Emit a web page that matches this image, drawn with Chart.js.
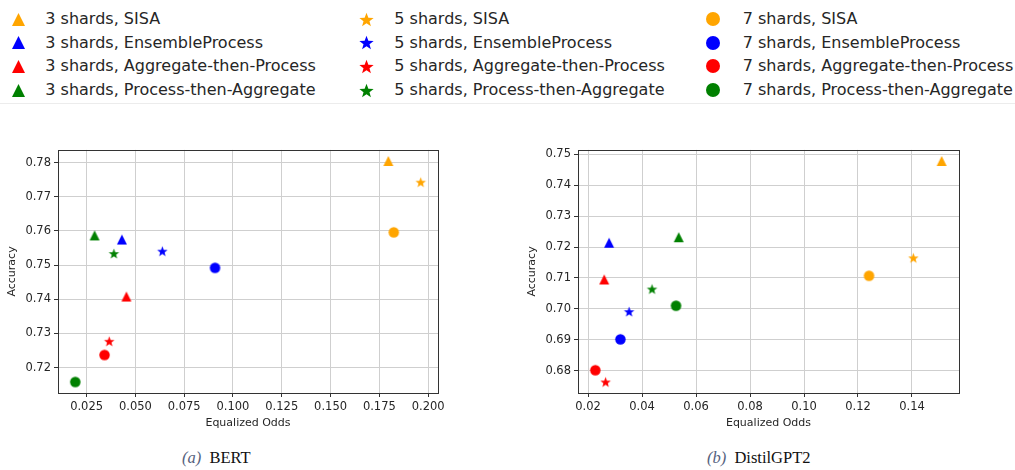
<!DOCTYPE html>
<html>
<head>
<meta charset="utf-8">
<script src="https://cdn.jsdelivr.net/npm/chart.js@4.4.1/dist/chart.umd.min.js"></script>
<style>
  html, body { margin: 0; padding: 0; background: #fff; }
  body { width: 1015px; height: 470px; position: relative; overflow: hidden; font-family: "DejaVu Sans", sans-serif; }
  .panel { position: absolute; top: 140px; width: 450px; height: 290px; }
  .leg-text { position: absolute; font-size: 16px; line-height: 20px; color: #262626; white-space: nowrap; }
  .leg-mark { position: absolute; }
  .caption { position: absolute; top: 448px; font-family: "Liberation Serif", serif; font-size: 16.5px; line-height: 20px; color: #111; white-space: nowrap; }
  .caption i { color: #56627e; margin-right: 4px; }
  #legline { position: absolute; left: 0; top: 103px; width: 1015px; height: 1px; background: #ececec; }
</style>
</head>
<body>
<div id="legend"></div>
<div id="legline"></div>
<div class="panel" style="left:0px"><canvas id="bert"></canvas></div>
<div class="panel" style="left:520px"><canvas id="gpt"></canvas></div>
<div class="caption" style="left:182px"><i>(a)</i> BERT</div>
<div class="caption" style="left:707px"><i>(b)</i> DistilGPT2</div>

<script>
// Shard counts (one marker shape each) and unlearning methods (one colour each)
const shardCounts = [3, 5, 7];
const methods = ['SISA', 'EnsembleProcess', 'Aggregate-then-Process', 'Process-then-Aggregate'];

// BERT — values per shard count (3, 5, 7)
const bertOddsSISA = [0.1796, 0.1962, 0.1824];
const bertAccSISA  = [0.7805, 0.7743, 0.7596];
const bertOddsEnsemble = [0.0431, 0.0638, 0.0908];
const bertAccEnsemble  = [0.7575, 0.7541, 0.7492];
const bertOddsAtP = [0.0454, 0.0366, 0.0342];
const bertAccAtP  = [0.7408, 0.7277, 0.7237];
const bertOddsPtA = [0.0291, 0.0390, 0.0192];
const bertAccPtA  = [0.7587, 0.7534, 0.7158];

// DistilGPT2 — values per shard count (3, 5, 7)
const gptOddsSISA = [0.1510, 0.1405, 0.1241];
const gptAccSISA  = [0.7479, 0.7165, 0.7107];
const gptOddsEnsemble = [0.0278, 0.0352, 0.0320];
const gptAccEnsemble  = [0.7214, 0.6991, 0.6901];
const gptOddsAtP = [0.0260, 0.0265, 0.0227];
const gptAccAtP  = [0.7095, 0.6763, 0.6801];
const gptOddsPtA = [0.0536, 0.0437, 0.0526];
const gptAccPtA  = [0.7232, 0.7064, 0.7010];

// Tick values
const bertXTicks = [0.025, 0.050, 0.075, 0.100, 0.125, 0.150, 0.175, 0.200];
const bertYTicks = [0.72, 0.73, 0.74, 0.75, 0.76, 0.77, 0.78];
const gptXTicks = [0.02, 0.04, 0.06, 0.08, 0.10, 0.12, 0.14];
const gptYTicks = [0.68, 0.69, 0.70, 0.71, 0.72, 0.73, 0.74, 0.75];

const methodColors = ['#ffa500', '#0000ff', '#ff0000', '#008000'];
const shardShapes = ['triangle', 'star', 'circle'];

// Filled marker drawn on a small canvas, centred on its bounding box
function makeMarker(shape, color, size) {
  const dim = Math.ceil(size) + 4;
  const c = document.createElement('canvas');
  c.width = dim; c.height = dim;
  const g = c.getContext('2d');
  const cx = dim / 2, cy = dim / 2, r = size / 2;
  g.fillStyle = color;
  g.beginPath();
  if (shape === 'circle') {
    g.arc(cx, cy, r, 0, Math.PI * 2);
  } else if (shape === 'triangle') {
    g.moveTo(cx, cy - r);
    g.lineTo(cx + r, cy + r);
    g.lineTo(cx - r, cy + r);
  } else {
    const inner = r * 0.42;
    const yOff = r * (1 - Math.cos(Math.PI / 5)) / 2;
    for (let i = 0; i < 10; i++) {
      const a = -Math.PI / 2 + i * Math.PI / 5;
      const rad = i % 2 ? inner : r;
      const px = cx + rad * Math.cos(a), py = cy + yOff + rad * Math.sin(a);
      if (i === 0) g.moveTo(px, py); else g.lineTo(px, py);
    }
  }
  g.closePath();
  g.fill();
  return c;
}
const plotSizes = { triangle: 10, star: 11, circle: 10.5 };
const legendSizes = { triangle: 13, star: 15, circle: 14 };

// Legend: one column per shard count, one row per method
const legend = document.getElementById('legend');
const colMarkX = [18.3, 366, 713.3];
const colTextX = [45.3, 394.3, 742.7];
const rowY = [19, 42.7, 66.3, 90];
shardCounts.forEach((n, si) => {
  methods.forEach((m, mi) => {
    const mk = makeMarker(shardShapes[si], methodColors[mi], legendSizes[shardShapes[si]]);
    mk.className = 'leg-mark';
    mk.style.left = (colMarkX[si] - mk.width / 2) + 'px';
    mk.style.top = (rowY[mi] - mk.height / 2) + 'px';
    legend.appendChild(mk);
    const t = document.createElement('div');
    t.className = 'leg-text';
    t.textContent = n + ' shards, ' + m;
    t.style.left = colTextX[si] + 'px';
    t.style.top = (rowY[mi] - 10) + 'px';
    legend.appendChild(t);
  });
});

// Full box around the plotting area
const framePlugin = {
  id: 'frame',
  afterDraw(chart) {
    const { ctx, chartArea: a } = chart;
    ctx.save();
    ctx.strokeStyle = '#333';
    ctx.lineWidth = 1;
    ctx.strokeRect(Math.round(a.left) + 0.5, Math.round(a.top) + 0.5,
                   Math.round(a.right - a.left), Math.round(a.bottom - a.top));
    ctx.restore();
  }
};

// Axis limits with a 5% margin around the data
function padded(values) {
  const lo = Math.min(...values), hi = Math.max(...values);
  const m = (hi - lo) * 0.05;
  return [lo - m, hi + m];
}

const tickFont = { family: 'DejaVu Sans', size: 11.5 };
const titleFont = { family: 'DejaVu Sans', size: 11 };

function axis(position, ticks, digits, range, title, size) {
  const horizontal = position === 'bottom';
  return {
    type: 'linear',
    position,
    min: range[0],
    max: range[1],
    afterBuildTicks: s => { s.ticks = ticks.map(v => ({ value: v })); },
    afterFit: s => { if (horizontal) s.height = size; else s.width = size; },
    ticks: {
      callback: v => Number(v).toFixed(digits),
      font: tickFont,
      color: '#262626',
      padding: 3,
      maxRotation: 0,
      autoSkip: false
    },
    grid: { color: '#cfcfcf', lineWidth: 1, tickColor: '#333', tickLength: 4 },
    border: { display: false },
    title: {
      display: true,
      text: title,
      font: titleFont,
      color: '#262626',
      padding: { top: horizontal ? 3.4 : 5.4, bottom: 0 }
    }
  };
}

function buildChart(id, oddsRows, accRows, xTicks, xDigits, yTicks, padRight) {
  const datasets = [];
  shardCounts.forEach((n, si) => {
    methods.forEach((m, mi) => {
      datasets.push({
        label: n + ' shards, ' + m,
        data: [{ x: oddsRows[mi][si], y: accRows[mi][si] }],
        pointStyle: makeMarker(shardShapes[si], methodColors[mi], plotSizes[shardShapes[si]]),
        pointRadius: 5,
        borderWidth: 0,
        backgroundColor: methodColors[mi]
      });
    });
  });
  const xRange = padded(oddsRows.flat());
  const yRange = padded(accRows.flat());
  return new Chart(document.getElementById(id), {
    type: 'scatter',
    data: { datasets },
    options: {
      responsive: true,
      maintainAspectRatio: false,
      animation: false,
      events: [],
      layout: { padding: { top: 7, right: padRight, left: 0, bottom: 0 } },
      plugins: { legend: { display: false }, tooltip: { enabled: false } },
      scales: {
        x: axis('bottom', xTicks, xDigits, xRange, 'Equalized Odds', 37),
        y: axis('left', yTicks, 2, yRange, 'Accuracy', 58)
      }
    },
    plugins: [framePlugin]
  });
}

buildChart('bert',
  [bertOddsSISA, bertOddsEnsemble, bertOddsAtP, bertOddsPtA],
  [bertAccSISA, bertAccEnsemble, bertAccAtP, bertAccPtA],
  bertXTicks, 3, bertYTicks, 12);

buildChart('gpt',
  [gptOddsSISA, gptOddsEnsemble, gptOddsAtP, gptOddsPtA],
  [gptAccSISA, gptAccEnsemble, gptAccAtP, gptAccPtA],
  gptXTicks, 2, gptYTicks, 11);
</script>
</body>
</html>
